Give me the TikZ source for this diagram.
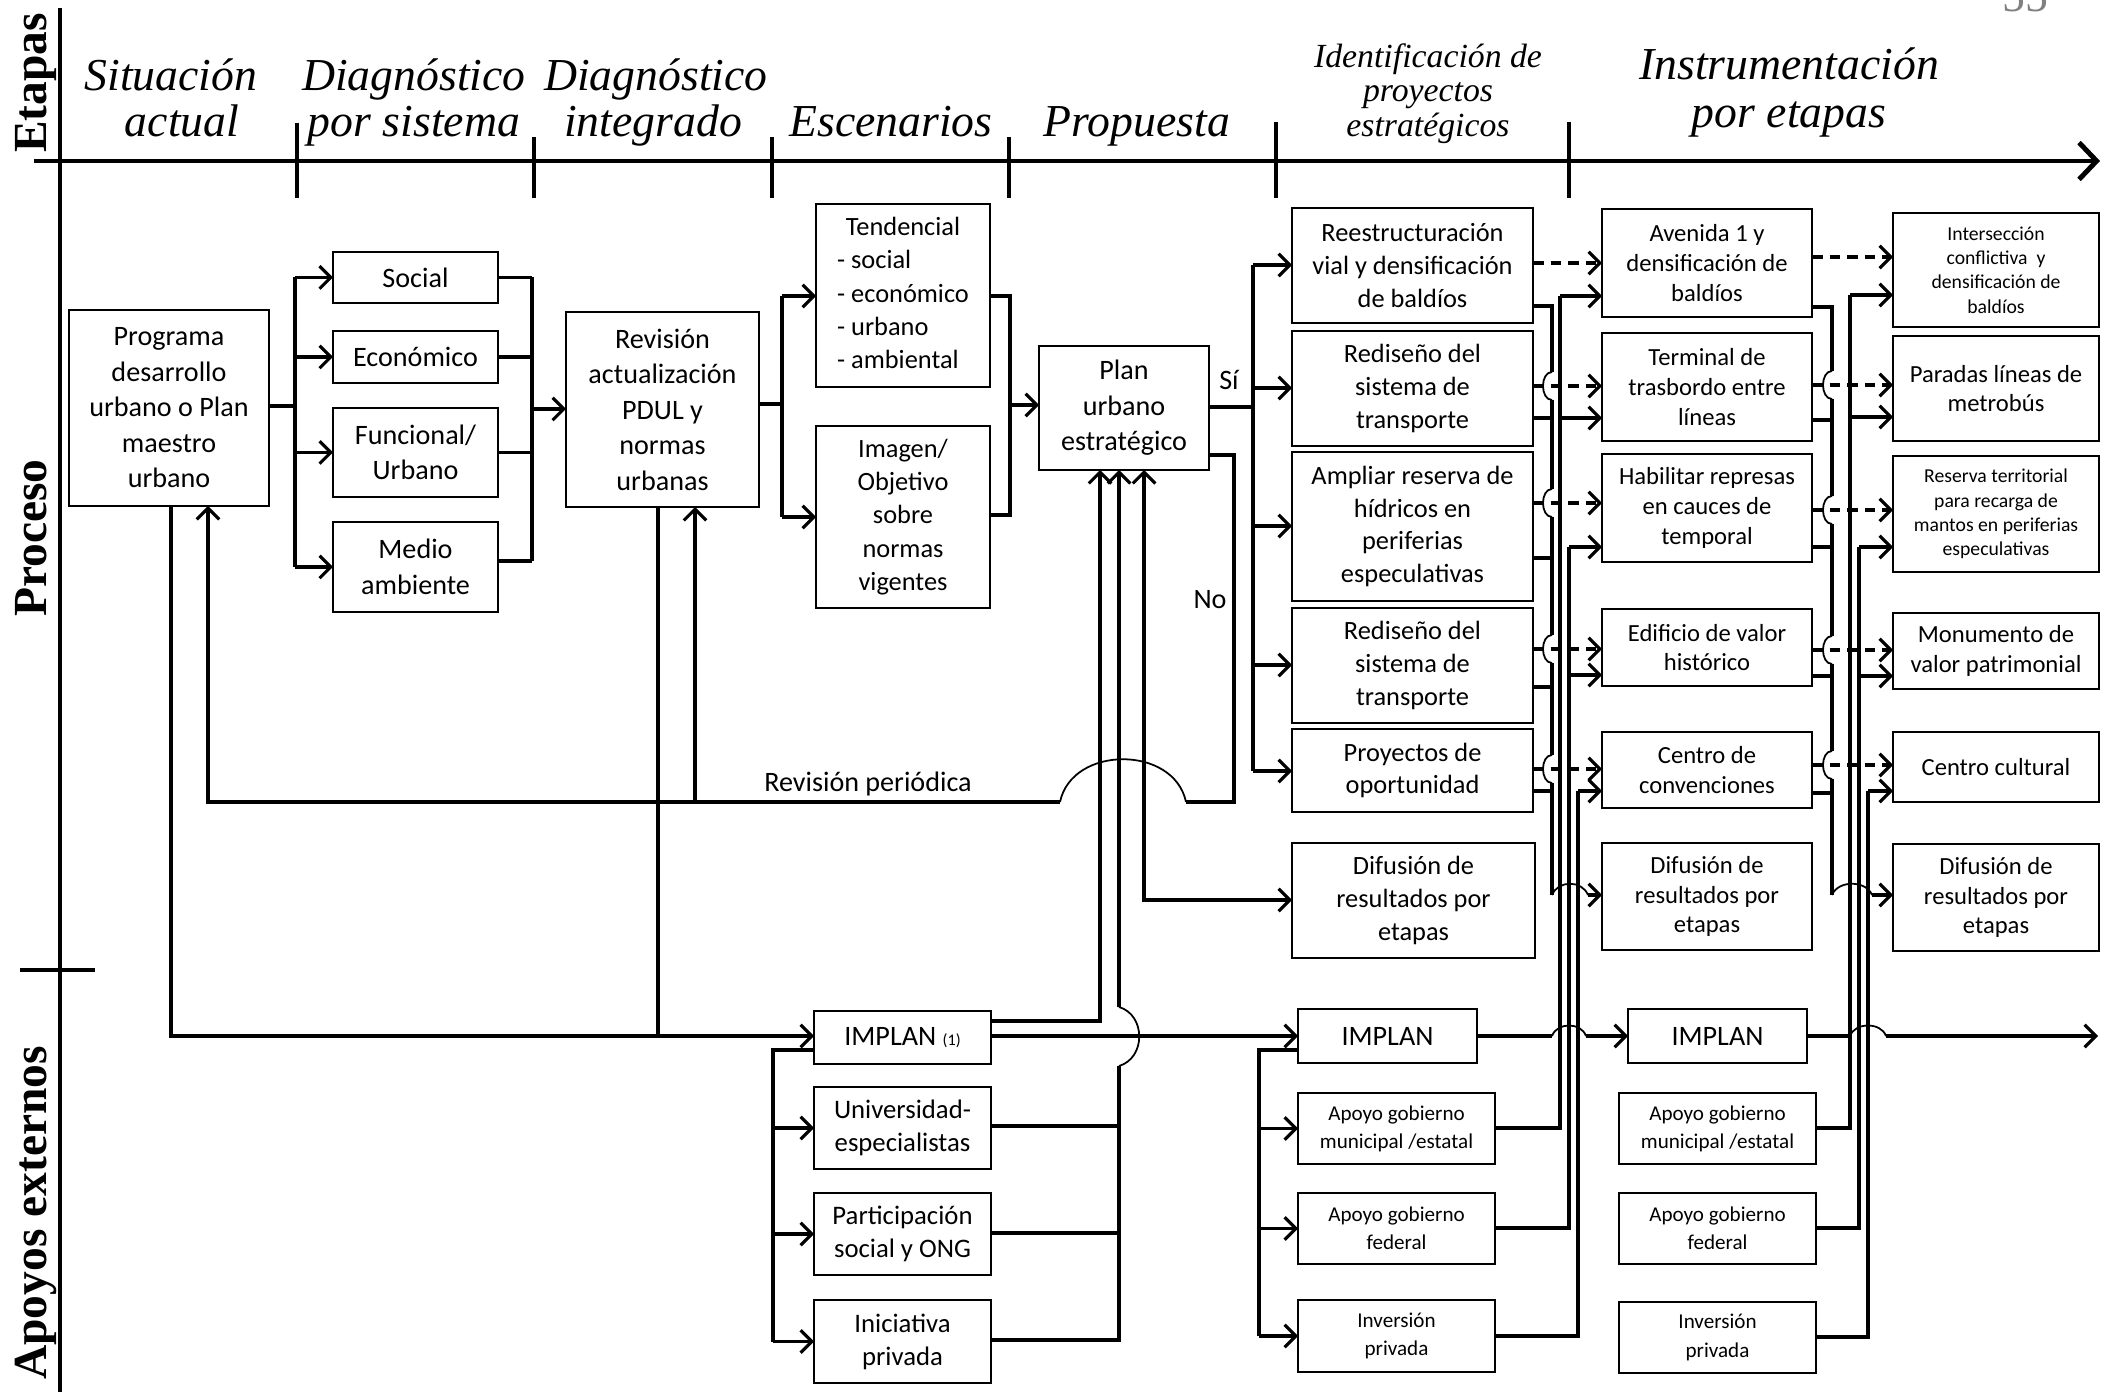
\documentclass[tikz,border=0pt]{standalone}
\usepackage{fontspec}
\setmainfont{Carlito}
\newfontfamily\serifhd{Liberation Serif}
\usetikzlibrary{arrows.meta}

\newcommand\fs[2]{\fontsize{#1}{#2}\selectfont}
% box: [style] name x1 y1 x2 y2 text
\newcommand\boxat[7][]{%
  \node[bx,#1,minimum width={(#5-#3)*0.01cm},minimum height={(#6-#4)*0.01cm}]
    (#2) at ({(#3+#5)/2},{(#4+#6)/2}) {#7};}

\begin{document}
\begin{tikzpicture}[x=0.01cm,y=-0.01cm,
  bx/.style={draw,line width=0.6pt,inner sep=1pt,outer sep=0pt,align=center},
  fa/.style={font=\fs{8}{10.1}},
  fb/.style={font=\fs{7.5}{9.3}},
  fc/.style={font=\fs{7}{8.5}},
  fd/.style={font=\fs{5.6}{6.9}},
  fe/.style={font=\fs{6}{8}},
  cn/.style={line width=0.9pt},
  hop/.style={line width=0.5pt},
  >={Straight Barb[length=3.2pt,width=6.4pt]},
  da/.style={cn,->,dash pattern=on 3pt off 2pt},
  hd/.style={font=\serifhd\itshape\fs{13}{15},inner sep=0pt,anchor=base},
  hs/.style={font=\serifhd\itshape\fs{9.6}{11},inner sep=0pt,anchor=base},
  vl/.style={font=\serifhd\bfseries\fs{13.5}{15},rotate=90,inner sep=0pt,anchor=base},
  lb/.style={font=\fs{8}{10},inner sep=0pt}]
\useasboundingbox (0,0) rectangle (2103,1392);

% ---- axes and stage ticks
\draw[line width=1.2pt] (60,8) -- (60,1392);
\draw[line width=1.4pt,-{Straight Barb[length=5pt,width=10.5pt]}] (34,161) -- (2100,161);
\foreach \x/\t in {297/123,534/137,772/137,1009/137,1276/122,1569/122}
  \draw[line width=1.1pt] (\x,\t) -- (\x,198);
\draw[line width=1.4pt] (20,970) -- (95,970);

\node[vl] (lbEtapas) at (46,83) {Etapas};
\node[vl] (lbProceso) at (46,538) {Proceso};
\node[vl] (lbApoyos) at (46,1213) {Apoyos externos};

\node[font=\serifhd\fs{13}{15},text=gray,anchor=base] (pgnum) at (2025,12) {55};

% ---- stage headings
\node[hd] (h1a) at (171,91) {Situación};
\node[hd] (h1b) at (182,137) {actual};
\node[hd] (h2a) at (414,91) {Diagnóstico};
\node[hd] (h2b) at (414,137) {por sistema};
\node[hd] (h3a) at (656,91) {Diagnóstico};
\node[hd] (h3b) at (653,137) {integrado};
\node[hd] (h4) at (891,137) {Escenarios};
\node[hd] (h5) at (1137,137) {Propuesta};
\node[hs] (h6a) at (1428,68) {Identificación de};
\node[hs] (h6b) at (1428,102) {proyectos};
\node[hs] (h6c) at (1428,137) {estratégicos};
\node[hd] (h7a) at (1789,80) {Instrumentación};
\node[hd] (h7b) at (1789,128) {por etapas};

% ---- process boxes
\boxat[fa]{prog}{69}{310}{269}{506}{Programa\\desarrollo\\urbano o Plan\\maestro\\urbano}
\boxat[fa]{social}{333}{252}{498}{303}{Social}
\boxat[fa]{econ}{333}{331}{498}{383}{Económico}
\boxat[fa]{func}{333}{408}{498}{497}{Funcional/\\Urbano}
\boxat[fa]{medio}{333}{522}{498}{612}{Medio\\ambiente}
\boxat[fa]{revis}{566}{312}{759}{507}{Revisión\\actualización\\PDUL y\\normas\\urbanas}
\boxat[font=\fs{7.5}{9.5}]{tend}{816}{204}{990}{387}{\begin{tabular}{@{}l@{}}\multicolumn{1}{@{}c@{}}{Tendencial}\\- social\\- económico\\- urbano\\- ambiental\end{tabular}}
\boxat[font=\fs{7.5}{9.5}]{imag}{816}{426}{990}{608}{Imagen/\\Objetivo\\sobre\\normas\\vigentes}
\boxat[fa]{plan}{1039}{346}{1209}{470}{Plan\\urbano\\estratégico}

\boxat[fb]{reest}{1292}{208}{1533}{323}{Reestructuración\\vial y densificación\\de baldíos}
\boxat[fb]{red1}{1292}{331}{1533}{446}{Rediseño del\\sistema de\\transporte}
\boxat[fb]{ampl}{1292}{452}{1533}{601}{Ampliar reserva de\\hídricos en\\periferias\\especulativas}
\boxat[fb]{red2}{1292}{608}{1533}{723}{Rediseño del\\sistema de\\transporte}
\boxat[fb]{proy}{1292}{729}{1533}{812}{Proyectos de\\oportunidad}
\boxat[fb]{dif1}{1292}{843}{1535}{958}{Difusión de\\resultados por\\etapas}

\boxat[fc]{aven}{1602}{209}{1812}{317}{Avenida 1 y\\densificación de\\baldíos}
\boxat[fc]{term}{1602}{333}{1812}{441}{Terminal de\\trasbordo entre\\líneas}
\boxat[fc]{habi}{1602}{454}{1812}{562}{Habilitar represas\\en cauces de\\temporal}
\boxat[fc]{edif}{1602}{609}{1812}{686}{Edificio de valor\\histórico}
\boxat[fc]{cconv}{1602}{732}{1812}{808}{Centro de\\convenciones}
\boxat[fc]{dif2}{1602}{843}{1812}{950}{Difusión de\\resultados por\\etapas}

\boxat[fd]{inter}{1893}{213}{2099}{327}{Intersección\\conflictiva\ \ y\\densificación de\\baldíos}
\boxat[fc]{parad}{1893}{336}{2099}{441}{Paradas líneas de\\metrobús}
\boxat[fd]{reser}{1893}{456}{2099}{572}{Reserva territorial\\para recarga de\\mantos en periferias\\especulativas}
\boxat[fc]{monum}{1893}{613}{2099}{689}{Monumento de\\valor patrimonial}
\boxat[fc]{ccult}{1893}{732}{2099}{802}{Centro cultural}
\boxat[fc]{dif3}{1893}{844}{2099}{951}{Difusión de\\resultados por\\etapas}

% ---- external support boxes
\boxat[fa]{impl1}{814}{1011}{991}{1064}{IMPLAN {\fs{4.6}{5}(1)}}
\boxat[font=\fs{7.6}{9.4}]{univ}{814}{1087}{991}{1169}{Universidad-\\especialistas}
\boxat[font=\fs{7.6}{9.4}]{parti}{814}{1193}{991}{1275}{Participación\\social y ONG}
\boxat[font=\fs{7.6}{9.4}]{inic}{814}{1300}{991}{1383}{Iniciativa\\privada}

\boxat[fa]{impl3}{1298}{1009}{1477}{1063}{IMPLAN}
\boxat[fe]{apm3}{1298}{1093}{1495}{1164}{Apoyo gobierno\\municipal /estatal}
\boxat[fe]{apf3}{1298}{1193}{1495}{1264}{Apoyo gobierno\\federal}
\boxat[fe]{inv3}{1298}{1300}{1495}{1372}{Inversión\\privada}

\boxat[fa]{impl4}{1628}{1009}{1807}{1063}{IMPLAN}
\boxat[fe]{apm4}{1619}{1093}{1816}{1164}{Apoyo gobierno\\municipal /estatal}
\boxat[fe]{apf4}{1619}{1193}{1816}{1264}{Apoyo gobierno\\federal}
\boxat[fe]{inv4}{1619}{1302}{1816}{1373}{Inversión\\privada}

% ---- labels
\node[lb] (lbsi) at (1229,380) {Sí};
\node[lb] (lbno) at (1210,600) {No};
\node[lb] (lbrev) at (868,784) {Revisión periódica};

% ---- diagnosis by system
\draw[cn] (prog.east |- 0,406) -- (295,406);
\draw[cn] (295,277) -- (295,567);
\foreach \n in {social,econ,func,medio} \draw[cn,->] (295,0 |- \n.west) -- (\n.west);
\foreach \n in {social,econ,func} \draw[cn] (\n.east) -- (532,0 |- \n.east);
\draw[cn] (medio.east |- 0,561) -- (532,561);
\draw[cn] (532,277) -- (532,561);
\draw[cn,->] (532,409) -- (revis.west |- 0,409);

% ---- scenarios
\draw[cn] (revis.east |- 0,404) -- (782,404);
\draw[cn] (782,296) -- (782,517);
\draw[cn,->] (782,296) -- (tend.west |- 0,296);
\draw[cn,->] (782,517) -- (imag.west |- 0,517);
\draw[cn] (tend.east |- 0,296) -- (1010,296) -- (1010,515) -- (imag.east |- 0,515);
\draw[cn,->] (1010,405) -- (plan.west |- 0,405);

% ---- proposal: yes branch
\draw[cn] (plan.east |- 0,407) -- (1253,407);
\draw[cn] (1253,265) -- (1253,771);
\foreach \n/\y in {reest/265,red1/388,ampl/526,red2/665,proy/771}
  \draw[cn,->] (1253,\y) -- (\n.west |- 0,\y);

% ---- no branch: periodic review
\draw[cn] (plan.east |- 0,455) -- (1234,455) -- (1234,802) -- (1186,802);
\draw[hop] (1186,802) .. controls (1174,745) and (1072,745) .. (1060,802);
\draw[cn,->] (1060,802) -- (208,802) -- (prog.south -| 208,0);
\draw[cn,->] (695,802) -- (revis.south -| 695,0);

% ---- down to IMPLAN
\draw[cn,->] (prog.south -| 171,0) -- (171,1036) -- (impl1.west |- 0,1036);
\draw[cn] (revis.south -| 658,0) -- (658,1036);
\draw[cn,->] (impl1.east |- 0,1021) -- (1100,1021) -- (plan.south -| 1100,0);
\draw[cn] (univ.east |- 0,1126) -- (1119,1126);
\draw[cn] (parti.east |- 0,1233) -- (1119,1233);
\draw[cn] (inic.east |- 0,1340) -- (1119,1340) -- (1119,1066);
\draw[hop] (1119,1066) .. controls (1146,1058) and (1146,1015) .. (1119,1007);
\draw[cn,->] (1119,1007) -- (plan.south -| 1119,0);
\draw[cn,<->] (plan.south -| 1144,0) -- (1144,900) -- (dif1.west |- 0,900);
\draw[cn,->] (impl1.east |- 0,1036) -- (impl3.west |- 0,1036);
\draw[cn] (impl1.west |- 0,1050) -- (773,1050) -- (773,0 |- inic.west);
\foreach \n in {univ,parti,inic} \draw[cn,->] (773,0 |- \n.west) -- (\n.west);
\draw[cn] (impl3.west |- 0,1050) -- (1259,1050) -- (1259,0 |- inv3.west);
\foreach \n in {apm3,apf3,inv3} \draw[cn,->] (1259,0 |- \n.west) -- (\n.west);

% ---- strategic projects to first stage
\foreach \a/\b/\y in {reest/aven/263,red1/term/386,ampl/habi/503,red2/edif/649,proy/cconv/769}
  \draw[da] (\a.east |- 0,\y) -- (\b.west |- 0,\y);
\draw[cn] (reest.east |- 0,306) -- (1552,306) -- (1552,372) (1552,400) -- (1552,489)
  (1552,517) -- (1552,635) (1552,663) -- (1552,755) (1552,783) -- (1552,895);
\foreach \y in {386,503,649,769}
  \draw[hop] (1552,\y-14) .. controls (1540,\y-14) and (1540,\y+14) .. (1552,\y+14);
\foreach \n/\y in {red1/418,ampl/558,red2/687,proy/791}
  \draw[cn] (\n.east |- 0,\y) -- (1552,\y);
\draw[hop] (1552,895) .. controls (1558,880) and (1582,880) .. (1588,895);
\draw[cn,->] (1588,895) -- (dif2.west |- 0,895);
\draw[cn] (apm3.east |- 0,1128) -- (1560,1128) -- (1560,296);
\draw[cn,->] (1560,296) -- (aven.west |- 0,296);
\draw[cn,->] (1560,418) -- (term.west |- 0,418);
\draw[cn] (apf3.east |- 0,1228) -- (1569,1228) -- (1569,547);
\draw[cn,->] (1569,547) -- (habi.west |- 0,547);
\draw[cn,->] (1569,675) -- (edif.west |- 0,675);
\draw[cn] (inv3.east |- 0,1336) -- (1578,1336) -- (1578,791);
\draw[cn,->] (1578,791) -- (cconv.west |- 0,791);
\draw[cn] (impl3.east |- 0,1036) -- (1552,1036);
\draw[hop] (1552,1036) .. controls (1557,1022) and (1581,1022) .. (1586,1036);
\draw[cn,->] (1586,1036) -- (impl4.west |- 0,1036);

% ---- first stage to second stage
\foreach \a/\b/\y in {aven/inter/257,term/parad/385,habi/reser/510,edif/monum/650,cconv/ccult/765}
  \draw[da] (\a.east |- 0,\y) -- (\b.west |- 0,\y);
\draw[cn] (aven.east |- 0,307) -- (1832,307) -- (1832,371) (1832,399) -- (1832,496)
  (1832,524) -- (1832,636) (1832,664) -- (1832,751) (1832,779) -- (1832,895);
\foreach \y in {385,510,650,765}
  \draw[hop] (1832,\y-14) .. controls (1820,\y-14) and (1820,\y+14) .. (1832,\y+14);
\foreach \n/\y in {term/420,habi/547,edif/676,cconv/793}
  \draw[cn] (\n.east |- 0,\y) -- (1832,\y);
\draw[hop] (1832,895) .. controls (1838,880) and (1866,880) .. (1872,895);
\draw[cn,->] (1872,895) -- (dif3.west |- 0,895);
\draw[cn] (apm4.east |- 0,1128) -- (1850,1128) -- (1850,295);
\draw[cn,->] (1850,295) -- (inter.west |- 0,295);
\draw[cn,->] (1850,417) -- (parad.west |- 0,417);
\draw[cn] (apf4.east |- 0,1228) -- (1859,1228) -- (1859,547);
\draw[cn,->] (1859,547) -- (reser.west |- 0,547);
\draw[cn,->] (1859,676) -- (monum.west |- 0,676);
\draw[cn] (inv4.east |- 0,1337) -- (1868,1337) -- (1868,791);
\draw[cn,->] (1868,791) -- (ccult.west |- 0,791);
\coordinate (implout) at (2098,1036);
\draw[cn] (impl4.east |- 0,1036) -- (1850,1036);
\draw[hop] (1850,1036) .. controls (1855,1022) and (1881,1022) .. (1886,1036);
\draw[cn,->] (1886,1036) -- (implout);
\end{tikzpicture}
\end{document}
